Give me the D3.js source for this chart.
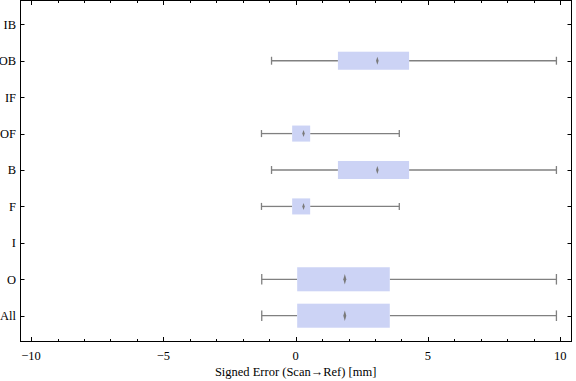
<!DOCTYPE html>
<html>
<head>
<meta charset="utf-8">
<script src="https://cdn.jsdelivr.net/npm/d3@7"></script>
<style>
  html, body { margin: 0; padding: 0; background: #fff; }
  svg { display: block; }
  text { font-family: "Liberation Serif", "DejaVu Serif", serif; fill: #000; }
</style>
</head>
<body>
<svg id="chart" width="576" height="381"></svg>
<script>
// ---- data (bottom to top) ----
const categories   = ["All", "O", "I", "F", "B", "OF", "IF", "OB", "IB"];
const whiskerLow   = [-1.28, -1.28, null, -1.29, -0.91, -1.29, null, -0.91, null];
const quartile1    = [ 0.06,  0.06, null, -0.13,  1.60, -0.13, null,  1.60, null];
const medians      = [ 1.86,  1.86, null,  0.30,  3.09,  0.30, null,  3.09, null];
const quartile3    = [ 3.56,  3.56, null,  0.55,  4.29,  0.55, null,  4.29, null];
const whiskerHigh  = [ 9.86,  9.86, null,  3.92,  9.86,  3.92, null,  9.86, null];
const relWeight    = [ 1.00,  1.00, null,  0.667, 0.75,  0.667, null, 0.75, null];
const xMajorTicks  = [-10, -5, 0, 5, 10];
const xMinorTicks  = d3.range(-10, 11, 1);
const xLabel = "Signed Error (Scan\u2192Ref) [mm]";

const rows = categories.map((c, i) => ({
  cat: c, lo: whiskerLow[i], q1: quartile1[i], med: medians[i],
  q3: quartile3[i], hi: whiskerHigh[i], w: relWeight[i]
}));

const svg = d3.select("#chart");
const L = 20.5, R = 571.5, T = 0.5, B = 341.5;

const x = d3.scaleLinear().domain([-10.4, 10.43]).range([L, R]);
const y = d3.scalePoint().domain(categories).range([B - 25.8, T + 23.8]).padding(0);
const step = y.step();
const boxH = w => step * 0.66 * w;

const gray = "#808080";
const boxFill = "#ccd3f5";

// ---- boxes ----
const g = svg.append("g");
const data = rows.filter(d => d.med != null);

// whisker lines
g.selectAll("line.wl").data(data).enter().append("line")
  .attr("x1", d => x(d.lo)).attr("x2", d => x(d.q1))
  .attr("y1", d => y(d.cat)).attr("y2", d => y(d.cat))
  .attr("stroke", gray).attr("stroke-width", 1.3);
g.selectAll("line.wh").data(data).enter().append("line")
  .attr("x1", d => x(d.q3)).attr("x2", d => x(d.hi))
  .attr("y1", d => y(d.cat)).attr("y2", d => y(d.cat))
  .attr("stroke", gray).attr("stroke-width", 1.3);
// caps
["lo", "hi"].forEach(k => {
  g.selectAll("line.cap" + k).data(data).enter().append("line")
    .attr("x1", d => x(d[k])).attr("x2", d => x(d[k]))
    .attr("y1", d => y(d.cat) - boxH(d.w) * 0.22)
    .attr("y2", d => y(d.cat) + boxH(d.w) * 0.22)
    .attr("stroke", gray).attr("stroke-width", 1.3);
});
// boxes
g.selectAll("rect.box").data(data).enter().append("rect")
  .attr("x", d => x(d.q1)).attr("width", d => x(d.q3) - x(d.q1))
  .attr("y", d => y(d.cat) - boxH(d.w) / 2).attr("height", d => boxH(d.w))
  .attr("fill", boxFill);
// median diamonds
g.selectAll("path.med").data(data).enter().append("path")
  .attr("d", d => {
    const cx = x(d.med), cy = y(d.cat);
    const hh = boxH(d.w) * 0.22, hw = 1.5 * Math.sqrt(d.w);
    return `M${cx},${cy - hh}L${cx + hw},${cy}L${cx},${cy + hh}L${cx - hw},${cy}Z`;
  })
  .attr("fill", "#7a7a7a");

// ---- frame ----
svg.append("rect").attr("x", L).attr("y", T).attr("width", R - L).attr("height", B - T)
  .attr("fill", "none").attr("stroke", "#000").attr("stroke-width", 1);

// ---- x ticks (bottom & top, inward) ----
const tg = svg.append("g").attr("stroke", "#000").attr("stroke-width", 1);
xMinorTicks.forEach(v => {
  const major = xMajorTicks.includes(v);
  const len = major ? 4.5 : 2.5;
  const px = Math.round(x(v)) + 0.5;
  tg.append("line").attr("x1", px).attr("x2", px).attr("y1", B).attr("y2", B - len);
  tg.append("line").attr("x1", px).attr("x2", px).attr("y1", T).attr("y2", T + len);
});
// y ticks (left & right, inward)
categories.forEach(c => {
  const py = Math.round(y(c)) + 0.5;
  tg.append("line").attr("x1", L).attr("x2", L + 4).attr("y1", py).attr("y2", py);
  tg.append("line").attr("x1", R).attr("x2", R - 4).attr("y1", py).attr("y2", py);
});

// tick labels
svg.append("g").selectAll("text").data(xMajorTicks).enter().append("text")
  .attr("x", d => x(d)).attr("y", B + 18)
  .attr("text-anchor", "middle").attr("font-size", 12.5)
  .text(d => d < 0 ? "\u2212" + Math.abs(d) : String(d));

svg.append("g").selectAll("text").data(categories).enter().append("text")
  .attr("x", L - 4.5).attr("y", d => y(d)).attr("dy", "0.35em")
  .attr("text-anchor", "end").attr("font-size", 12.5)
  .text(d => d);

svg.append("text").attr("x", x(0)).attr("y", 376)
  .attr("text-anchor", "middle").attr("font-size", 12.5)
  .text(xLabel);
</script>
</body>
</html>
